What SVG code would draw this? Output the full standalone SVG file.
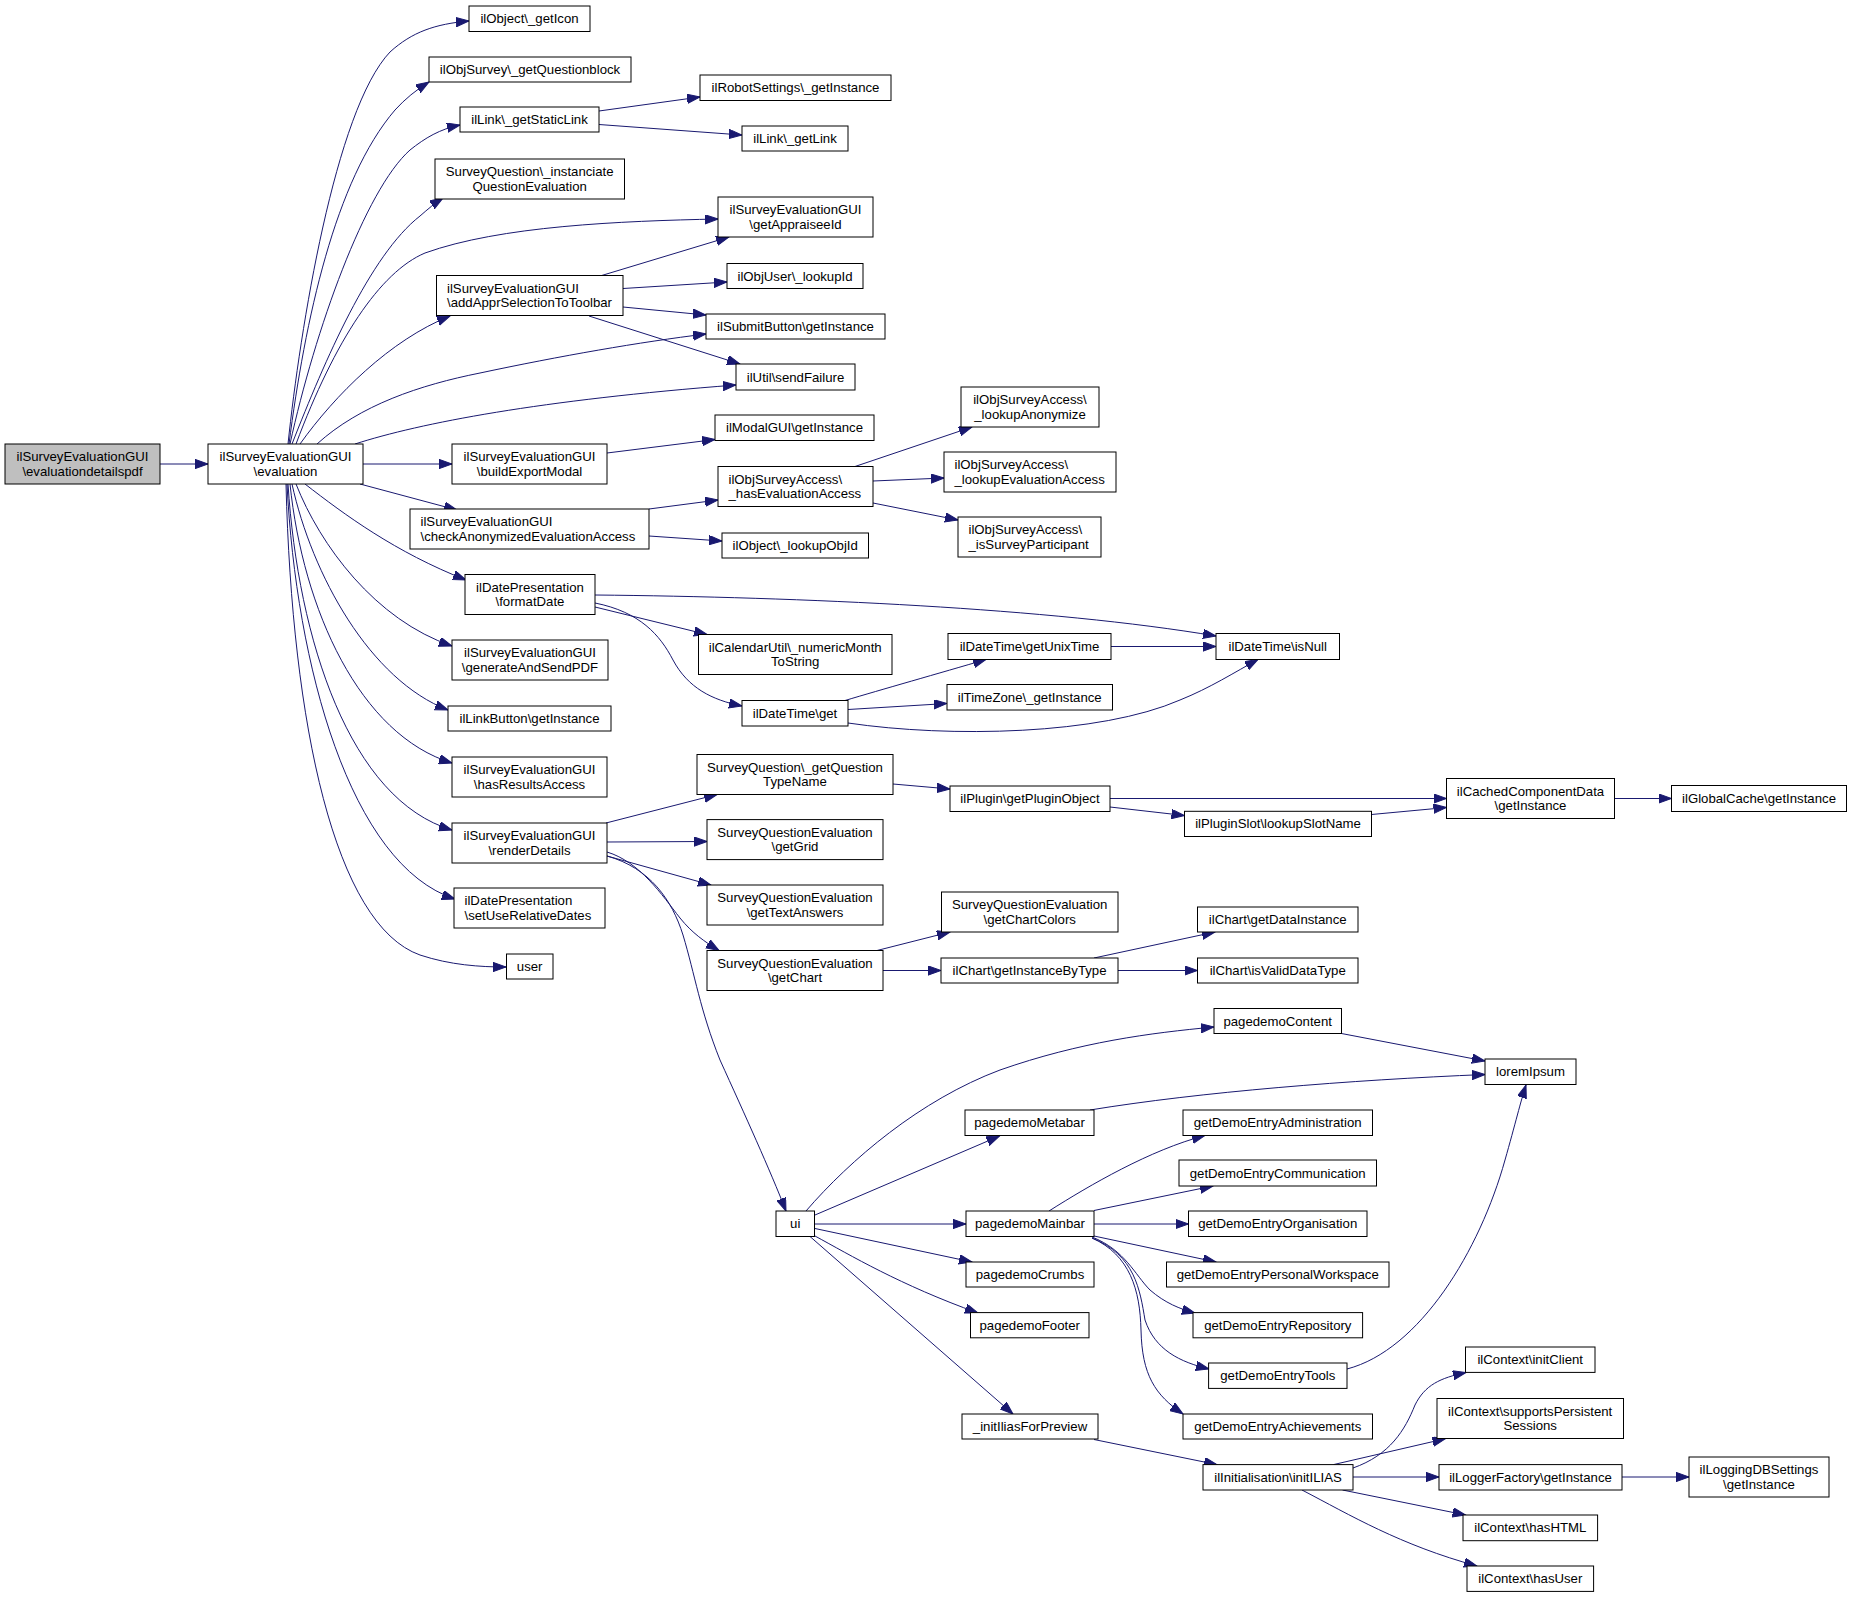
<svg xmlns="http://www.w3.org/2000/svg" width="1852" height="1597" viewBox="0 0 1852 1597">
<style>
.node rect{fill:#ffffff;stroke:#000000;stroke-width:1}
.node.root rect{fill:#bfbfbf}
.node text{font-family:"Liberation Sans",Arial,sans-serif;font-size:13.2px;fill:#000000;text-anchor:middle}
.node text.l{text-anchor:start}
.edge path{fill:none;stroke:#191970;stroke-width:1;marker-end:url(#ah)}
</style>
<defs>
<marker id="ah" markerUnits="userSpaceOnUse" markerWidth="14" markerHeight="10" refX="13" refY="4.65" orient="auto" viewBox="0 0 14 10"><path d="M0,0 L13,4.65 L0,9.3 z" fill="#191970" stroke="#191970" stroke-width="1"/></marker>
</defs>
<rect x="0" y="0" width="1852" height="1597" fill="#ffffff"/>
<g id="edges" class="edge">
<path d="M160,464 L208,464"/>
<path d="M288,444 C300,330 335,110 390,52 C412,32 435,24 469,21"/>
<path d="M289,444 C305,320 335,180 395,110 C405,99 416,90 429,82"/>
<path d="M290,444 C315,330 365,190 410,150 C425,138 440,129 460,125"/>
<path d="M292,444 C325,360 370,255 420,216 C428,209 435,203 443,198"/>
<path d="M296,444 C335,340 380,272 425,253 C500,226 620,221 718,219"/>
<path d="M300,444 C335,395 390,340 450,316"/>
<path d="M317,444 C360,405 420,385 480,373 C560,356 640,342 706,334"/>
<path d="M355,444 C420,423 540,400 736,385"/>
<path d="M363,464 L452,464"/>
<path d="M360,484 L457,510"/>
<path d="M305,484 C345,515 395,552 466,580"/>
<path d="M296,484 C320,545 375,620 452,646"/>
<path d="M292,484 C312,575 370,680 448,710"/>
<path d="M290,484 C303,610 360,735 452,763"/>
<path d="M288,484 C298,640 350,800 452,830"/>
<path d="M287,484 C296,665 350,865 455,899"/>
<path d="M286,484 C292,725 335,925 420,955 C450,965 480,967 506,967"/>
<path d="M599,111 L700,97"/>
<path d="M599,124.5 L742,135"/>
<path d="M600,276 L729,237"/>
<path d="M623,288.5 L727,282"/>
<path d="M623,307 L706,315"/>
<path d="M589,316 L740,364"/>
<path d="M607,453 L715,439.5"/>
<path d="M649,509 L718,500"/>
<path d="M649,536 L722,541"/>
<path d="M855,466.5 L972,427"/>
<path d="M873,481 L944,478"/>
<path d="M873,503 L958,520"/>
<path d="M595,607 L707,634.5"/>
<path d="M595,595 C800,597 1050,608 1216,636"/>
<path d="M595,603 C640,612 660,635 673,660 C688,688 712,700 742,706"/>
<path d="M1111,646.5 L1216,646.5"/>
<path d="M845,700.5 C880,690 940,673 986,659.5"/>
<path d="M848,709.5 L947,703.5"/>
<path d="M848,723 C950,738 1100,735 1180,700 C1210,688 1235,672 1258,659.5"/>
<path d="M606,823 L717,794.5"/>
<path d="M607,842 L707,841.5"/>
<path d="M607,856 L711,885"/>
<path d="M607,852 C640,862 662,895 680,918 C692,933 705,942 719,950.5"/>
<path d="M607,856 C650,868 672,900 683,935 C695,975 700,1010 720,1060 C745,1115 770,1170 786,1211"/>
<path d="M893,784 L950,789"/>
<path d="M1110,798.5 L1446.5,798.5"/>
<path d="M1110,807 L1184.5,815.5"/>
<path d="M1371.5,814.5 L1446.5,807.5"/>
<path d="M1614.5,798.5 L1671.5,798.5"/>
<path d="M877,950.5 L950,932"/>
<path d="M883,970.5 L941,970.5"/>
<path d="M1094,958 L1215,932"/>
<path d="M1118,970.5 L1197.5,970.5"/>
<path d="M806,1211 C850,1160 920,1100 1000,1070 C1080,1042 1150,1033 1214,1027"/>
<path d="M815,1215 L999.5,1136"/>
<path d="M815,1224 L966,1224"/>
<path d="M815,1228.5 L972,1262"/>
<path d="M815,1236 C850,1255 900,1285 978,1313"/>
<path d="M810,1236.5 L1013,1414"/>
<path d="M1341.5,1033.5 L1485,1061"/>
<path d="M1090,1110 C1200,1092 1350,1080 1485,1074.5"/>
<path d="M1049,1211 C1090,1185 1150,1150 1205,1135.5"/>
<path d="M1094,1210.5 L1213,1186"/>
<path d="M1094,1224 L1188.5,1224"/>
<path d="M1094,1236 L1216,1262"/>
<path d="M1092,1237 C1125,1250 1135,1275 1150,1290 C1165,1303 1180,1309 1195,1313"/>
<path d="M1092,1238 C1135,1255 1140,1290 1145,1320 C1155,1350 1180,1362 1209,1369"/>
<path d="M1092,1238 C1130,1255 1140,1290 1141,1330 C1142,1375 1155,1395 1183,1414"/>
<path d="M1094,1439.5 L1217,1464.6"/>
<path d="M1347,1369 C1420,1350 1480,1250 1505,1160 C1515,1125 1521,1100 1526,1085"/>
<path d="M1353,1468 C1390,1455 1405,1430 1415,1405 C1425,1385 1440,1378 1466,1372.5"/>
<path d="M1333.5,1464.6 L1445.5,1438.7"/>
<path d="M1353,1477 L1439,1477"/>
<path d="M1342.5,1490 L1465.6,1515"/>
<path d="M1302,1490 C1350,1515 1400,1545 1477,1566"/>
<path d="M1622,1477 L1689,1477"/>
</g>
<g id="n_evaluationdetailspdf" class="node root"><rect x="5" y="444" width="155" height="40"/><text x="82.5" y="461">ilSurveyEvaluationGUI</text><text x="82.5" y="475.5">\evaluationdetailspdf</text></g>
<g id="n_evaluation" class="node"><rect x="208" y="444" width="155" height="40"/><text x="285.5" y="461">ilSurveyEvaluationGUI</text><text x="285.5" y="475.5">\evaluation</text></g>
<g id="n_getIcon" class="node"><rect x="469" y="6" width="121" height="25.5"/><text x="529.5" y="23.3">ilObject\_getIcon</text></g>
<g id="n_getQuestionblock" class="node"><rect x="429" y="57" width="202" height="25"/><text x="530" y="74">ilObjSurvey\_getQuestionblock</text></g>
<g id="n_getStaticLink" class="node"><rect x="460" y="107" width="139" height="25"/><text x="529.5" y="124">ilLink\_getStaticLink</text></g>
<g id="n_instanciate" class="node"><rect x="435" y="159" width="189.5" height="40"/><text x="529.7" y="176">SurveyQuestion\_instanciate</text><text x="529.7" y="190.5">QuestionEvaluation</text></g>
<g id="n_addAppr" class="node"><rect x="436.5" y="275.5" width="186.5" height="40"/><text class="l" x="447" y="292.5">ilSurveyEvaluationGUI</text><text class="l" x="447" y="307">\addApprSelectionToToolbar</text></g>
<g id="n_buildExportModal" class="node"><rect x="452" y="444" width="155" height="40"/><text x="529.5" y="461">ilSurveyEvaluationGUI</text><text x="529.5" y="475.5">\buildExportModal</text></g>
<g id="n_checkAnon" class="node"><rect x="410" y="509" width="239" height="40"/><text class="l" x="420.5" y="526">ilSurveyEvaluationGUI</text><text class="l" x="420.5" y="540.5">\checkAnonymizedEvaluationAccess</text></g>
<g id="n_formatDate" class="node"><rect x="465" y="574.5" width="130" height="40"/><text x="530" y="591.5">ilDatePresentation</text><text x="530" y="606">\formatDate</text></g>
<g id="n_generateAndSendPDF" class="node"><rect x="452" y="640" width="156" height="40"/><text x="530" y="657">ilSurveyEvaluationGUI</text><text x="530" y="671.5">\generateAndSendPDF</text></g>
<g id="n_linkButton" class="node"><rect x="448" y="706" width="163" height="25"/><text x="529.5" y="723">ilLinkButton\getInstance</text></g>
<g id="n_hasResultsAccess" class="node"><rect x="452" y="757" width="155" height="40"/><text x="529.5" y="774">ilSurveyEvaluationGUI</text><text x="529.5" y="788.5">\hasResultsAccess</text></g>
<g id="n_renderDetails" class="node"><rect x="452" y="823" width="155" height="40"/><text x="529.5" y="840">ilSurveyEvaluationGUI</text><text x="529.5" y="854.5">\renderDetails</text></g>
<g id="n_setUseRelativeDates" class="node"><rect x="454" y="888" width="151" height="40"/><text class="l" x="464.5" y="905">ilDatePresentation</text><text class="l" x="464.5" y="919.5">\setUseRelativeDates</text></g>
<g id="n_user" class="node"><rect x="506.5" y="954" width="46.5" height="25"/><text x="529.7" y="971">user</text></g>
<g id="n_robotSettings" class="node"><rect x="700" y="75" width="191" height="25.5"/><text x="795.5" y="92.3">ilRobotSettings\_getInstance</text></g>
<g id="n_getLink" class="node"><rect x="742" y="126" width="106" height="25"/><text x="795" y="143">ilLink\_getLink</text></g>
<g id="n_getAppraiseeId" class="node"><rect x="718" y="197" width="155" height="40"/><text x="795.5" y="214">ilSurveyEvaluationGUI</text><text x="795.5" y="228.5">\getAppraiseeId</text></g>
<g id="n_lookupId" class="node"><rect x="727" y="263.5" width="136" height="25"/><text x="795" y="280.5">ilObjUser\_lookupId</text></g>
<g id="n_submitButton" class="node"><rect x="706" y="314" width="179" height="25"/><text x="795.5" y="331">ilSubmitButton\getInstance</text></g>
<g id="n_sendFailure" class="node"><rect x="736" y="364" width="119" height="26"/><text x="795.5" y="381.5">ilUtil\sendFailure</text></g>
<g id="n_modalGUI" class="node"><rect x="715" y="415" width="159" height="25.5"/><text x="794.5" y="432.3">ilModalGUI\getInstance</text></g>
<g id="n_hasEvaluationAccess" class="node"><rect x="718" y="466.5" width="155" height="40"/><text class="l" x="728.5" y="483.5">ilObjSurveyAccess\</text><text class="l" x="728.5" y="498">_hasEvaluationAccess</text></g>
<g id="n_lookupAnonymize" class="node"><rect x="961" y="387" width="138" height="40"/><text x="1030" y="404">ilObjSurveyAccess\</text><text x="1030" y="418.5">_lookupAnonymize</text></g>
<g id="n_lookupEvaluationAccess" class="node"><rect x="944" y="452" width="172" height="40"/><text class="l" x="954.5" y="469">ilObjSurveyAccess\</text><text class="l" x="954.5" y="483.5">_lookupEvaluationAccess</text></g>
<g id="n_isSurveyParticipant" class="node"><rect x="958" y="517" width="143" height="40"/><text class="l" x="968.5" y="534">ilObjSurveyAccess\</text><text class="l" x="968.5" y="548.5">_isSurveyParticipant</text></g>
<g id="n_lookupObjId" class="node"><rect x="722" y="533" width="146.5" height="25"/><text x="795.2" y="550">ilObject\_lookupObjId</text></g>
<g id="n_numericMonth" class="node"><rect x="698.5" y="634.5" width="193.5" height="40"/><text x="795.2" y="651.5">ilCalendarUtil\_numericMonth</text><text x="795.2" y="666">ToString</text></g>
<g id="n_getUnixTime" class="node"><rect x="948" y="633.5" width="163" height="26"/><text x="1029.5" y="651">ilDateTime\getUnixTime</text></g>
<g id="n_timeZone" class="node"><rect x="947" y="684.5" width="165.5" height="25.5"/><text x="1029.7" y="701.8">ilTimeZone\_getInstance</text></g>
<g id="n_dateTimeGet" class="node"><rect x="742" y="700.5" width="106" height="25.5"/><text x="795" y="717.8">ilDateTime\get</text></g>
<g id="n_isNull" class="node"><rect x="1216" y="633.5" width="123.5" height="26"/><text x="1277.7" y="651">ilDateTime\isNull</text></g>
<g id="n_getQuestionTypeName" class="node"><rect x="697" y="754.5" width="196" height="40"/><text x="795" y="771.5">SurveyQuestion\_getQuestion</text><text x="795" y="786">TypeName</text></g>
<g id="n_getPluginObject" class="node"><rect x="950" y="786" width="160" height="25.5"/><text x="1030" y="803.3">ilPlugin\getPluginObject</text></g>
<g id="n_lookupSlotName" class="node"><rect x="1184.5" y="811.3" width="187" height="25.2"/><text x="1278" y="828.4">ilPluginSlot\lookupSlotName</text></g>
<g id="n_cachedComponentData" class="node"><rect x="1446.5" y="778.5" width="168" height="40"/><text x="1530.5" y="795.5">ilCachedComponentData</text><text x="1530.5" y="810">\getInstance</text></g>
<g id="n_globalCache" class="node"><rect x="1671.5" y="785.5" width="175" height="26"/><text x="1759" y="803">ilGlobalCache\getInstance</text></g>
<g id="n_getGrid" class="node"><rect x="707" y="819.6" width="176" height="40"/><text x="795" y="836.6">SurveyQuestionEvaluation</text><text x="795" y="851.1">\getGrid</text></g>
<g id="n_getTextAnswers" class="node"><rect x="707" y="885" width="176" height="40"/><text x="795" y="902">SurveyQuestionEvaluation</text><text x="795" y="916.5">\getTextAnswers</text></g>
<g id="n_getChartColors" class="node"><rect x="941.5" y="892" width="176.5" height="40"/><text x="1029.7" y="909">SurveyQuestionEvaluation</text><text x="1029.7" y="923.5">\getChartColors</text></g>
<g id="n_getChart" class="node"><rect x="707" y="950.5" width="176" height="40"/><text x="795" y="967.5">SurveyQuestionEvaluation</text><text x="795" y="982">\getChart</text></g>
<g id="n_getInstanceByType" class="node"><rect x="941" y="958" width="177" height="25"/><text x="1029.5" y="975">ilChart\getInstanceByType</text></g>
<g id="n_getDataInstance" class="node"><rect x="1197.5" y="907" width="160.5" height="25"/><text x="1277.7" y="924">ilChart\getDataInstance</text></g>
<g id="n_isValidDataType" class="node"><rect x="1197.5" y="958" width="160.5" height="25"/><text x="1277.7" y="975">ilChart\isValidDataType</text></g>
<g id="n_pagedemoContent" class="node"><rect x="1214" y="1008.5" width="127.5" height="25"/><text x="1277.7" y="1025.5">pagedemoContent</text></g>
<g id="n_loremIpsum" class="node"><rect x="1485" y="1059" width="91" height="25.5"/><text x="1530.5" y="1076.3">loremIpsum</text></g>
<g id="n_pagedemoMetabar" class="node"><rect x="965" y="1110" width="129" height="25.5"/><text x="1029.5" y="1127.3">pagedemoMetabar</text></g>
<g id="n_ui" class="node"><rect x="776" y="1211" width="38.5" height="25.5"/><text x="795.2" y="1228.3">ui</text></g>
<g id="n_pagedemoMainbar" class="node"><rect x="966" y="1211" width="128" height="25.5"/><text x="1030" y="1228.3">pagedemoMainbar</text></g>
<g id="n_pagedemoCrumbs" class="node"><rect x="966" y="1262" width="128" height="25"/><text x="1030" y="1279">pagedemoCrumbs</text></g>
<g id="n_pagedemoFooter" class="node"><rect x="970.5" y="1312.6" width="118.5" height="25.2"/><text x="1029.7" y="1329.7">pagedemoFooter</text></g>
<g id="n_initIliasForPreview" class="node"><rect x="962" y="1414" width="136" height="25"/><text x="1030" y="1431">_initIliasForPreview</text></g>
<g id="n_getDemoEntryAdministration" class="node"><rect x="1183" y="1110" width="189.5" height="25.5"/><text x="1277.7" y="1127.3">getDemoEntryAdministration</text></g>
<g id="n_getDemoEntryCommunication" class="node"><rect x="1179" y="1160" width="197.5" height="26"/><text x="1277.7" y="1177.5">getDemoEntryCommunication</text></g>
<g id="n_getDemoEntryOrganisation" class="node"><rect x="1188.5" y="1211" width="178.5" height="25.5"/><text x="1277.7" y="1228.3">getDemoEntryOrganisation</text></g>
<g id="n_getDemoEntryPersonalWorkspace" class="node"><rect x="1166.5" y="1262" width="222.5" height="25"/><text x="1277.7" y="1279">getDemoEntryPersonalWorkspace</text></g>
<g id="n_getDemoEntryRepository" class="node"><rect x="1193" y="1312.6" width="169.6" height="25.2"/><text x="1277.8" y="1329.7">getDemoEntryRepository</text></g>
<g id="n_getDemoEntryTools" class="node"><rect x="1208.6" y="1363" width="138.4" height="25.4"/><text x="1277.8" y="1380.2">getDemoEntryTools</text></g>
<g id="n_getDemoEntryAchievements" class="node"><rect x="1183" y="1414" width="189.5" height="25"/><text x="1277.7" y="1431">getDemoEntryAchievements</text></g>
<g id="n_initILIAS" class="node"><rect x="1203" y="1464.6" width="150" height="25.4"/><text x="1278" y="1481.8">ilInitialisation\initILIAS</text></g>
<g id="n_initClient" class="node"><rect x="1465.5" y="1347" width="129.5" height="25.4"/><text x="1530.2" y="1364.2">ilContext\initClient</text></g>
<g id="n_supportsPersistentSessions" class="node"><rect x="1437" y="1398.5" width="186.5" height="40"/><text x="1530.2" y="1415.5">ilContext\supportsPersistent</text><text x="1530.2" y="1430">Sessions</text></g>
<g id="n_loggerFactory" class="node"><rect x="1439" y="1464.6" width="183" height="25.4"/><text x="1530.5" y="1481.8">ilLoggerFactory\getInstance</text></g>
<g id="n_loggingDBSettings" class="node"><rect x="1689" y="1457" width="140" height="40"/><text x="1759" y="1474">ilLoggingDBSettings</text><text x="1759" y="1488.5">\getInstance</text></g>
<g id="n_hasHTML" class="node"><rect x="1463" y="1515" width="134.6" height="25.7"/><text x="1530.3" y="1532.3">ilContext\hasHTML</text></g>
<g id="n_hasUser" class="node"><rect x="1467" y="1566" width="126.6" height="25.4"/><text x="1530.3" y="1583.2">ilContext\hasUser</text></g>
</svg>
